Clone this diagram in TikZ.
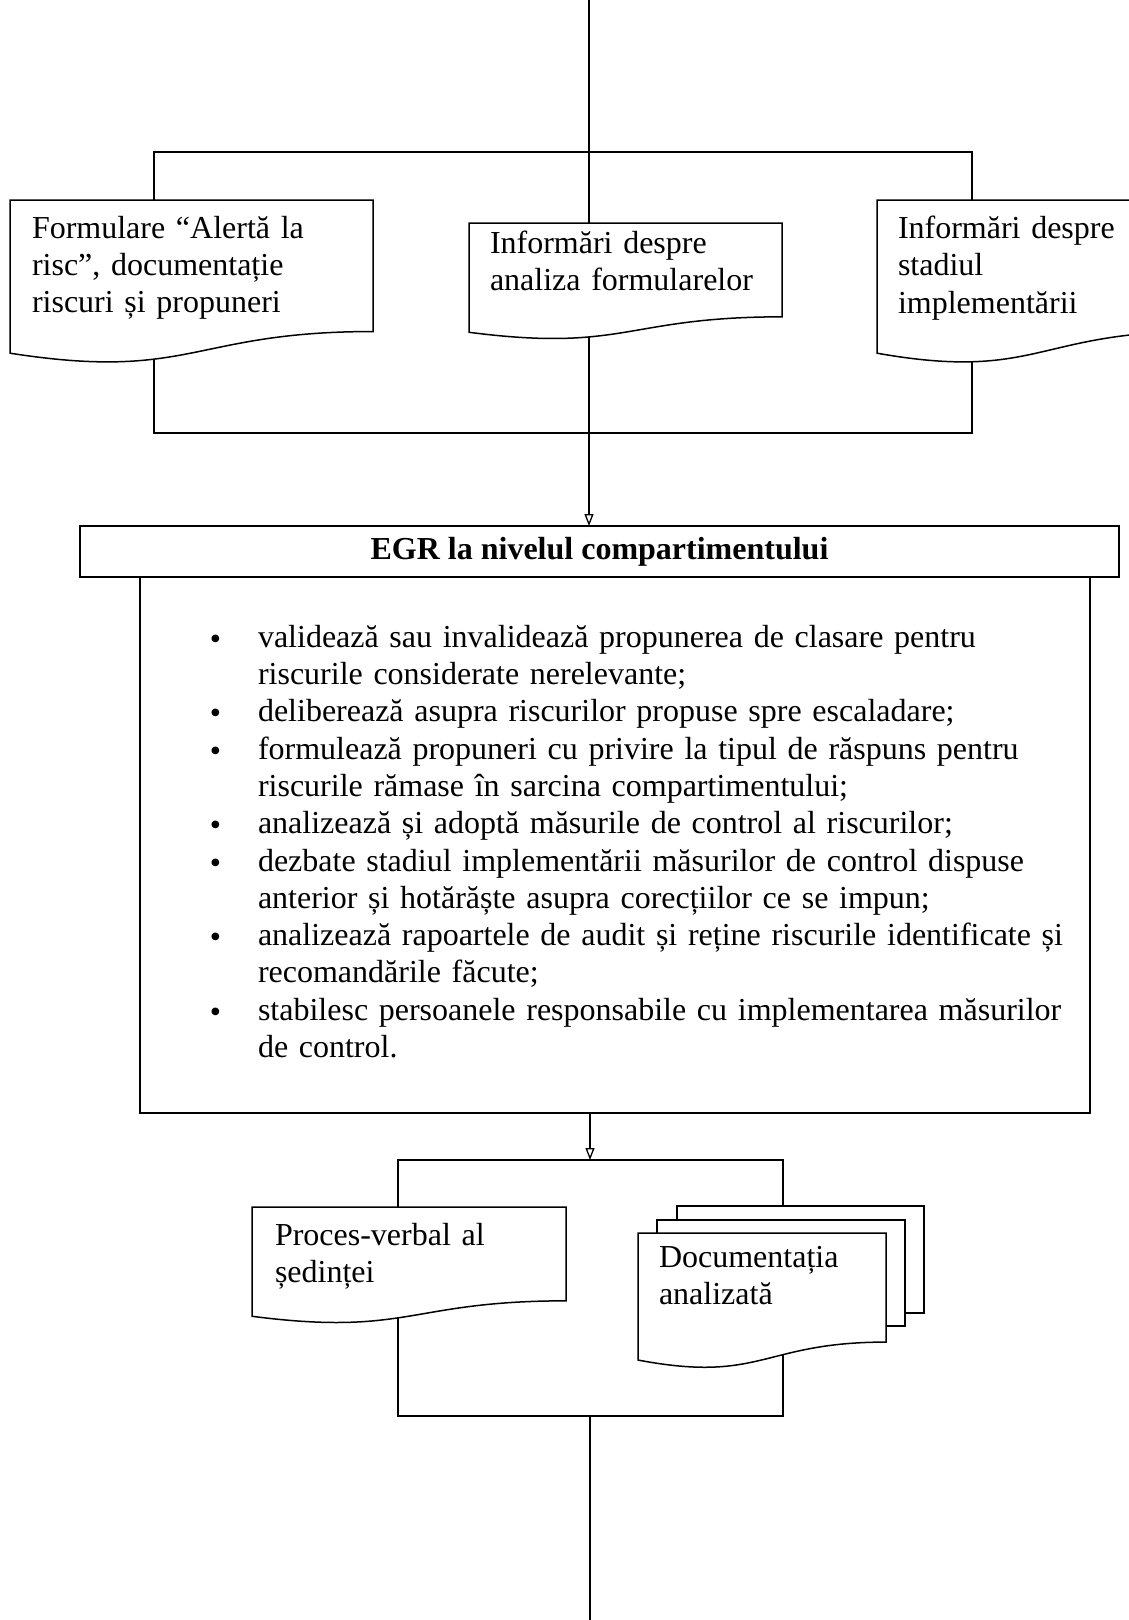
\documentclass[tikz,border=0pt]{standalone}
\usepackage{fontspec}
\setmainfont{Liberation Serif}
\usetikzlibrary{arrows.meta,calc}
\tikzset{
  ln/.style={line width=1.5pt, draw=black},
  arr/.style={ln, -{Triangle[open,length=12pt,width=9pt,line width=1.3pt]}},
  shp/.style={line width=1.5pt, draw=black, fill=white},
  frame/.style={inner sep=0pt, outer sep=0pt, draw=none, anchor=north west},
  page/.style={shp, inner sep=0pt, outer sep=0pt, anchor=north west},
  txt/.style={inner sep=0pt, outer sep=0pt, anchor=north west, align=left, text width=#1,
              font=\fontsize{32}{37.3}\selectfont},
  txt/.default=840pt,
}
\newcommand{\drawdoc}[1]{%
  \draw[shp] let \p1=(#1.north west), \p2=(#1.south east) in
  (\x1,\y1) -- (\x2,\y1) -- (\x2,{\y1+0.802*(\y2-\y1)})
  .. controls ({0.5*(\x1+\x2)},{\y1+0.802*(\y2-\y1)}) and ({0.5*(\x1+\x2)},{\y1+1.107*(\y2-\y1)}) ..
  (\x1,{\y1+0.934*(\y2-\y1)}) -- cycle;}
\newcommand{\bul}{\leavevmode\llap{\raisebox{-2pt}{\textbullet}\hspace{37pt}}}
\begin{document}
\begin{tikzpicture}[x=1pt,y=-1pt]
\useasboundingbox (0,0) rectangle (1129,1620);
\clip (0,0) rectangle (1129,1620);
% frames of the shapes
\node[frame, minimum width=363pt, minimum height=164pt] (d1) at (10,200) {};
\node[frame, minimum width=313pt, minimum height=117pt] (d2) at (469,223) {};
\node[frame, minimum width=320pt, minimum height=164pt] (d3) at (877,200) {};
\node[draw, line width=1.5pt, inner sep=0pt, outer sep=0pt, anchor=north west,
      minimum width=1039pt, minimum height=51pt,
      font=\fontsize{32}{37.3}\selectfont\bfseries] (egr) at (80,526) {EGR la nivelul compartimentului};
\node[draw, line width=1.5pt, inner sep=0pt, outer sep=0pt, anchor=north west,
      minimum width=950pt, minimum height=536pt] (body) at (140,577) {};
\node[frame, minimum width=314pt, minimum height=117pt] (p1) at (252,1207) {};
\node[frame, minimum width=248pt, minimum height=136pt] (dd) at (638,1233) {};
% coordinates of the buses
\coordinate (topend) at (589,0);
\coordinate (busTL) at (154,152);
\coordinate (busTR) at (972,152);
\coordinate (busBL) at (154,433);
\coordinate (busBR) at (972,433);
\coordinate (lowT) at (590,1160);
\coordinate (lTL) at (398,1160);
\coordinate (lTR) at (783,1160);
\coordinate (lBL) at (398,1416);
\coordinate (lBR) at (783,1416);
\coordinate (endB) at (590,1620);
% connectors (behind the shapes)
\draw[ln] (topend) -- (topend |- d2.north);
\draw[ln] (busTL |- d1.north) -- (busTL) -- (busTR) -- (busTR |- d3.north);
\draw[ln] (busBL |- d1.center) -- (busBL) -- (busBR) -- (busBR |- d3.center);
\draw[arr] (topend |- d2.center) -- (topend |- egr.north);
\draw[arr] (lowT |- body.south) -- (lowT);
\draw[ln] (lTL |- p1.north) -- (lTL) -- (lTR) -- (lTR |- dd.north);
\draw[ln] (lBL |- p1.center) -- (lBL) -- (lBR) -- (lBR |- dd.center);
\draw[ln] (lBL -| endB) -- (endB);
% document shapes
\drawdoc{d1}
\drawdoc{d2}
\drawdoc{d3}
\drawdoc{p1}
\node[page, minimum width=247pt, minimum height=107pt] (pg3) at (677,1206) {};
\node[page, minimum width=248pt, minimum height=106pt] (pg2) at (657,1220) {};
\drawdoc{dd}
% texts
\node[txt=330pt] (t1) at (32,216) {Formulare “Alertă la\\risc”, documentație\\riscuri și propuneri};
\node[txt=290pt] (t2) at (490,231) {Informări despre\\analiza formularelor};
\node[txt=240pt] (t3) at (898,216) {Informări despre\\stadiul\\implementării};
\node[txt=290pt] (t4) at (275,1223) {Proces-verbal al\\ședinței};
\node[txt=220pt] (t5) at (659,1246) {Documentația\\analizată};
\node[txt] (bt) at (258,625) {%
\bul validează sau invalidează propunerea de clasare pentru\\
riscurile considerate nerelevante;\\
\bul deliberează asupra riscurilor propuse spre escaladare;\\
\bul formulează propuneri cu privire la tipul de răspuns pentru\\
riscurile rămase în sarcina compartimentului;\\
\bul analizează și adoptă măsurile de control al riscurilor;\\
\bul dezbate stadiul implementării măsurilor de control dispuse\\
anterior și hotărăște asupra corecțiilor ce se impun;\\
\bul analizează rapoartele de audit și reține riscurile identificate și\\
recomandările făcute;\\
\bul stabilesc persoanele responsabile cu implementarea măsurilor\\
de control.};
\end{tikzpicture}
\end{document}
